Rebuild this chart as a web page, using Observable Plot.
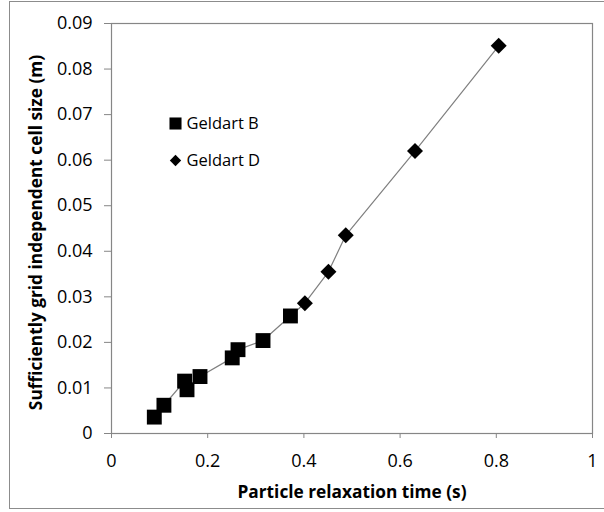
<!DOCTYPE html>
<html>
<head>
<meta charset="utf-8">
<script src="https://cdn.jsdelivr.net/npm/d3@7"></script>
<script src="https://cdn.jsdelivr.net/npm/@observablehq/plot@0.6"></script>
<style>
  html, body { margin: 0; padding: 0; background: #fff; }
  #wrap { position: relative; width: 604px; height: 512px; overflow: hidden; }
  #border { position: absolute; left: 9px; top: 1px; width: 640px; height: 508px; border: 1.5px solid #8c8c8c; box-sizing: border-box; pointer-events: none; }
</style>
</head>
<body>
<div id="wrap"><div id="border"></div></div>
<script>
// Geldart B (squares)
const bX = [0.089, 0.109, 0.152, 0.157, 0.184, 0.251, 0.263, 0.315, 0.372];
const bY = [0.0036, 0.0062, 0.0115, 0.0096, 0.0125, 0.0166, 0.0184, 0.0204, 0.0258];
// Geldart D (diamonds)
const dX = [0.402, 0.451, 0.487, 0.631, 0.805];
const dY = [0.0286, 0.0355, 0.0435, 0.0620, 0.0851];

const xTicks = [0, 0.2, 0.4, 0.6, 0.8, 1];
const yTicks = [0, 0.01, 0.02, 0.03, 0.04, 0.05, 0.06, 0.07, 0.08, 0.09];
const seriesNames = ["Geldart B", "Geldart D"];
const xTitle = "Particle relaxation time (s)";
const yTitle = "Sufficiently grid independent cell size (m)";

const bData = bX.map((x, i) => ({x, y: bY[i]}));
const dData = dX.map((x, i) => ({x, y: dY[i]}));
const all = bData.concat(dData);

const font = "'Open Sans', 'Noto Sans', sans-serif";

const chart = Plot.plot({
  width: 604,
  height: 512,
  marginLeft: 111,
  marginRight: 12,
  marginTop: 23,
  marginBottom: 79,
  style: {fontFamily: font, fontSize: "15px", color: "#000", background: "transparent"},
  x: {domain: [0, 1], axis: null},
  y: {domain: [0, 0.09], axis: null},
  marks: [
    Plot.frame({stroke: "#868686", strokeWidth: 1.2}),
    Plot.axisX(xTicks, {tickSize: 5, tickPadding: 16, stroke: "#868686", fill: "#000", tickFormat: d => String(d), fontSize: 18, label: null}),
    Plot.axisY(yTicks, {tickSize: 7, tickPadding: 12, stroke: "#868686", fill: "#000", tickFormat: d => String(+d.toFixed(2)), fontSize: 18, label: null}),
    Plot.line(all, {x: "x", y: "y", stroke: "#7f7f7f", strokeWidth: 1.2}),
    Plot.dot(bData, {x: "x", y: "y", symbol: "square", r: 8.4, fill: "#000", stroke: "none"}),
    Plot.dot(dData, {x: "x", y: "y", symbol: "diamond2", r: 7.2, fill: "#000", stroke: "none"}),
    // legend
    Plot.dot([seriesNames[0]], {frameAnchor: "top-left", dx: 64, dy: 100, symbol: "square", r: 6.8, fill: "#000", stroke: "none"}),
    Plot.dot([seriesNames[1]], {frameAnchor: "top-left", dx: 64, dy: 137, symbol: "diamond2", r: 5.1, fill: "#000", stroke: "none"}),
    Plot.text([seriesNames[0]], {text: d => d, frameAnchor: "top-left", dx: 75, dy: 100, textAnchor: "start", lineAnchor: "middle", fontSize: 16.5, fill: "#000"}),
    Plot.text([seriesNames[1]], {text: d => d, frameAnchor: "top-left", dx: 75, dy: 137, textAnchor: "start", lineAnchor: "middle", fontSize: 16.5, fill: "#000"}),
    // axis titles
    Plot.text([xTitle], {text: d => d, frameAnchor: "bottom", dy: 59, textAnchor: "middle", lineAnchor: "middle", fontWeight: "bold", fontSize: 17.3, fill: "#000"}),
    Plot.text([yTitle], {text: d => d, frameAnchor: "left", dx: -75, dy: 4, rotate: -90, textAnchor: "middle", lineAnchor: "middle", fontWeight: "bold", fontSize: 17.3, fill: "#000"})
  ]
});
document.getElementById("wrap").appendChild(chart);
chart.style.position = "absolute";
chart.style.left = "0";
chart.style.top = "0";
</script>
</body>
</html>
